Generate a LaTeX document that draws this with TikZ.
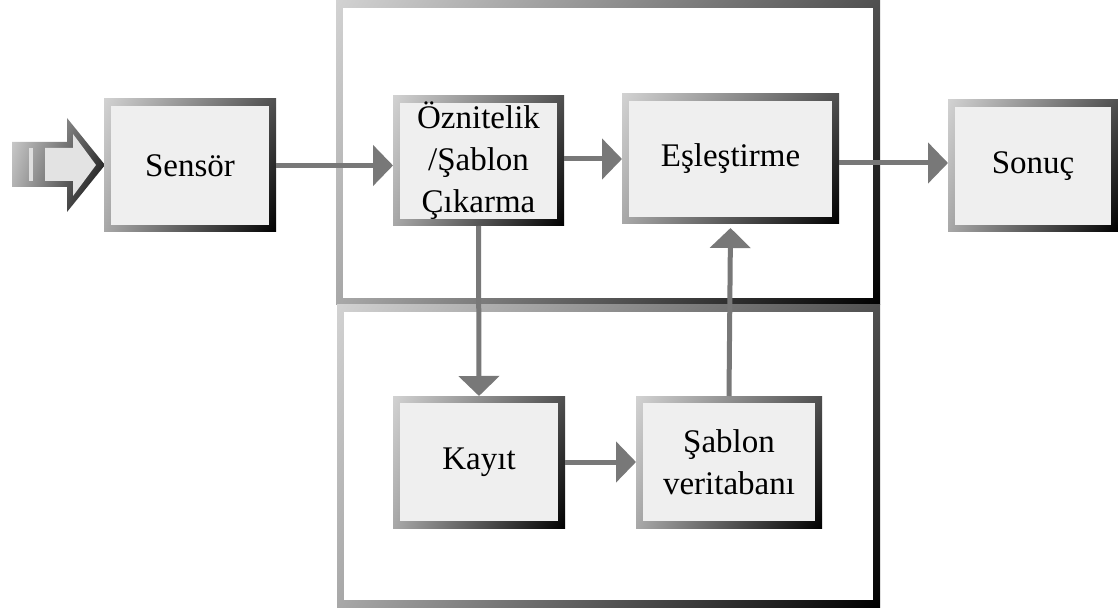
\documentclass[tikz,border=0pt]{standalone}
\usepackage{fontspec}
\setmainfont{Liberation Serif}
\usetikzlibrary{arrows.meta,shadings}
\definecolor{boxfill}{HTML}{EFEFEF}
\definecolor{arrgray}{HTML}{787878}
\definecolor{gA}{HTML}{D2D2D2}
\definecolor{gB}{HTML}{505050}
\definecolor{gC}{HTML}{A8A8A8}
\definecolor{gD}{HTML}{000000}
\tikzset{
  bevelshade/.style={shading=bilinear interpolation, upper left=gA, upper right=gB, lower left=gC, lower right=gD},
  bevel/.style={bevelshade, inner sep=0pt, outer sep=0pt,
    path picture={\fill[#1] ([shift={(7pt,-7pt)}]path picture bounding box.north west) rectangle ([shift={(-7pt,7pt)}]path picture bounding box.south east);}},
  blk/.style={bevel=boxfill, font=\fontsize{33}{42}\selectfont, align=center, text=black},
  frm/.style={bevel=white},
  arr/.style={draw=arrgray, line width=5pt, -{Triangle[length=20pt,width=40pt]}},
}
\begin{document}
\begin{tikzpicture}[x=1pt,y=-1pt]
\useasboundingbox (0,0) rectangle (1118,609);
% frames
\node[frm, minimum width=544pt, minimum height=304pt] (topframe) at (608,153) {};
\node[frm, minimum width=543pt, minimum height=302pt] (botframe) at (608.5,456) {};
% input arrow
\shade[bevelshade] (12,142) -- (67,142) -- (67,118) -- (105,165) -- (67,212) -- (67,187) -- (12,187) -- cycle;
\fill[boxfill!95!black] (45,148) -- (73,148) -- (73,134) -- (96,165) -- (73,196) -- (73,181) -- (45,181) -- cycle;
\fill[gray!25] (29,148) rectangle (33,181);
% boxes
\node[blk, minimum width=172pt, minimum height=133pt] (sensor) at (190,165.5) {Sensör};
\node[blk, minimum width=171pt, minimum height=130pt] (feat) at (478.5,161) {Öznitelik\\/Şablon\\Çıkarma};
\node[blk, minimum width=217pt, minimum height=130pt] (match) at (730.5,159) {Eşleştirme};
\node[blk, minimum width=170pt, minimum height=132pt] (result) at (1033,166) {Sonuç};
\node[blk, minimum width=172pt, minimum height=132pt] (enroll) at (479,462) {Kayıt};
\node[blk, minimum width=186pt, minimum height=132pt] (db) at (729,462) {Şablon\\veritabanı};
% connectors
\draw[arr] (sensor.east) -- (feat.west |- sensor.east);
\draw[arr] (feat.east |- 0,159) -- (match.west);
\draw[arr] (match.east |- 0,163) -- (result.west |- 0,163);
\draw[arr] (feat.south) -- (enroll.north);
\draw[arr] (enroll.east) -- (db.west);
\draw[arr] (db.north) -- ([yshift=-4pt]match.south);
\end{tikzpicture}
\end{document}
